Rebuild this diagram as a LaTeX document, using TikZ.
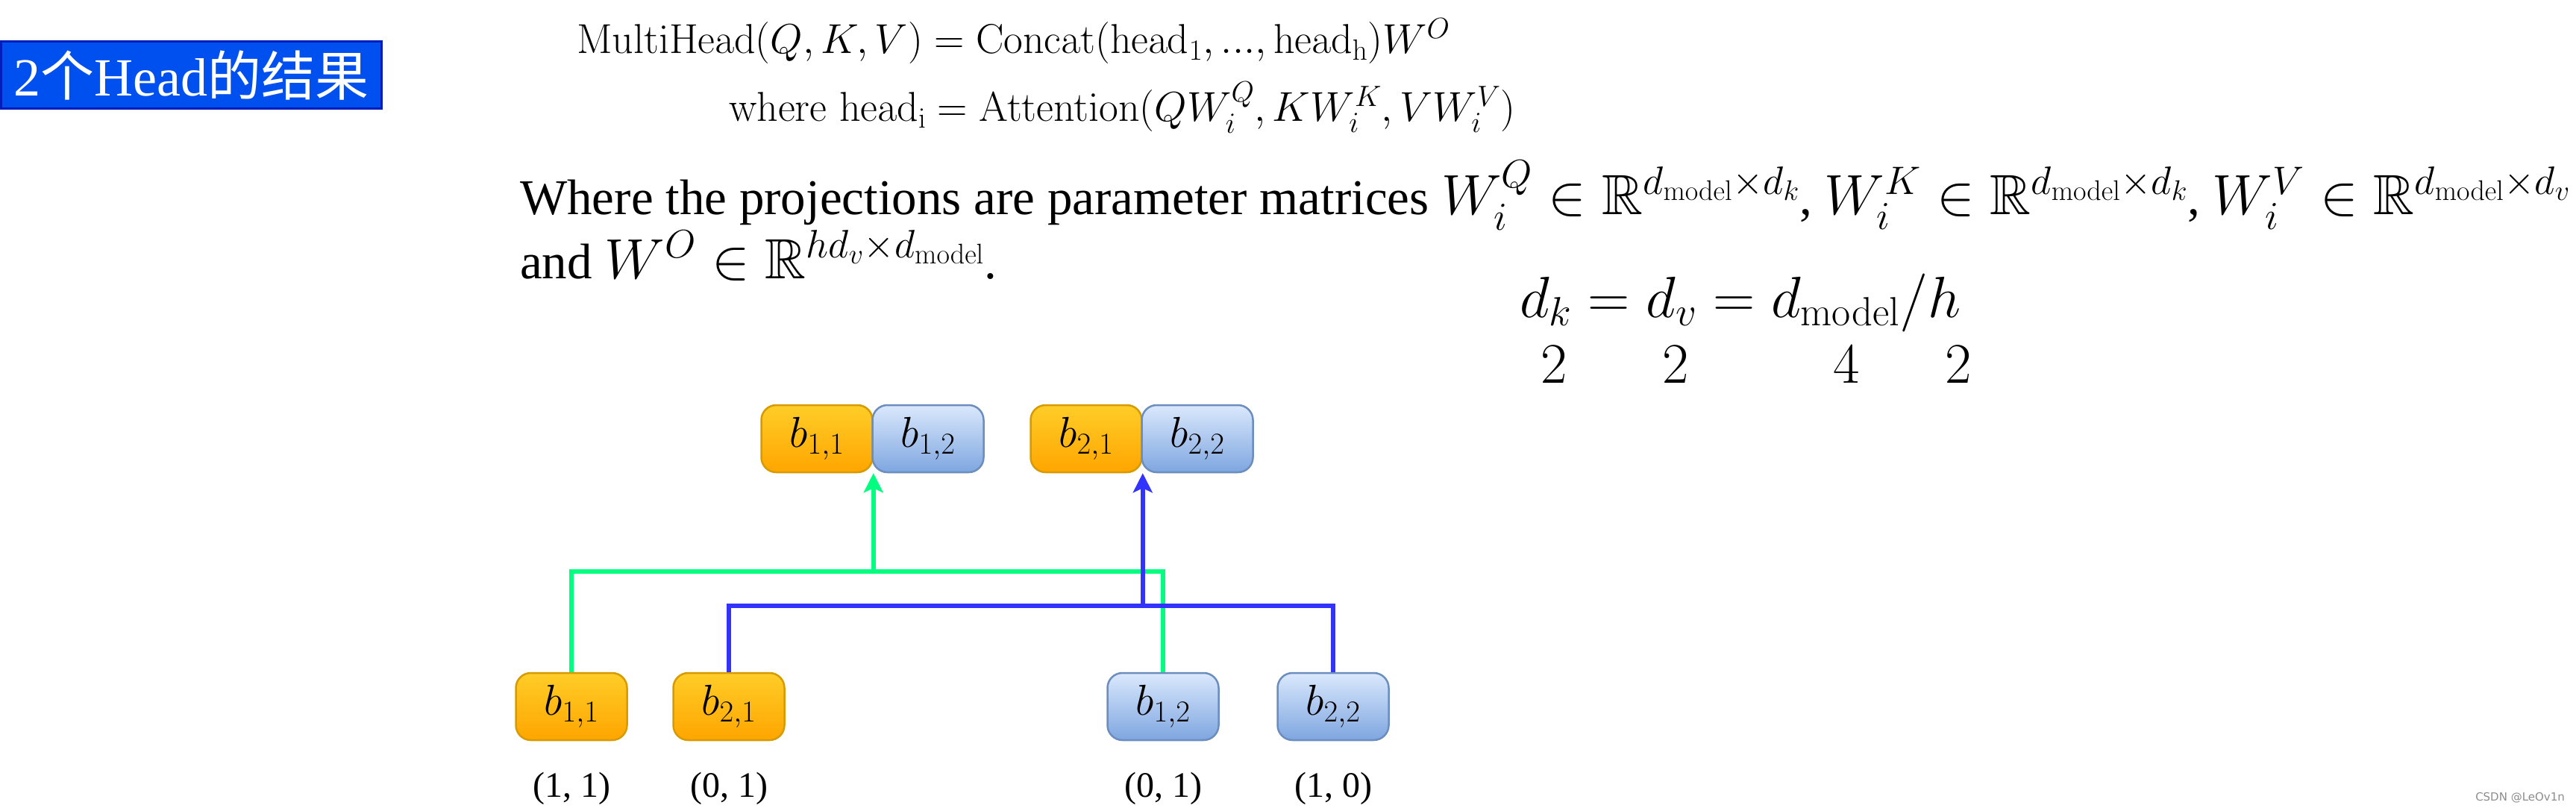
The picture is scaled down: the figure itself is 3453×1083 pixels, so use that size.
\RequirePackage{fix-cm}
\documentclass[tikz,border=0pt]{standalone}
\usepackage{amsmath,amssymb}
\usepackage[no-math]{fontspec}
\newfontfamily\tnr{Liberation Serif}
\newfontfamily\cjk{Noto Sans CJK SC}
\newfontfamily\wmfont{DejaVu Sans}
\usetikzlibrary{arrows.meta}
\definecolor{titlefill}{HTML}{0050EF}
\definecolor{titledraw}{HTML}{001DBC}
\definecolor{orgtop}{HTML}{FFCD28}
\definecolor{orgbot}{HTML}{FFA500}
\definecolor{orgdraw}{HTML}{D79B00}
\definecolor{blutop}{HTML}{DAE8FC}
\definecolor{blubot}{HTML}{7EA6E0}
\definecolor{bludraw}{HTML}{6C8EBF}
\definecolor{gline}{HTML}{00FF80}
\definecolor{bline}{HTML}{3333FF}
\tikzset{
  cell/.style={rounded corners=20pt, line width=2.5pt, minimum width=149pt,
    minimum height=90pt, inner sep=0pt, font=\fontsize{58}{60}\selectfont},
  orange cell/.style={cell, draw=orgdraw, top color=orgtop, bottom color=orgbot},
  blue cell/.style={cell, draw=bludraw, top color=blutop, bottom color=blubot},
  greenwire/.style={draw=gline, line width=5.5pt},
  bluewire/.style={draw=bline, line width=5.5pt},
  tip/.style={-{Stealth[length=26pt,width=26pt,inset=6pt]}},
  eqtext/.style={inner sep=0pt, anchor=base west},
  vecl/.style={inner sep=0pt, anchor=base, font=\tnr\fontsize{48}{50}\selectfont},
}
\begin{document}
\begin{tikzpicture}[x=1pt,y=-1pt]
\useasboundingbox (0,0) rectangle (3453,1083);
% title box
\node[draw=titledraw, fill=titlefill, line width=3pt, minimum width=510pt,
  minimum height=90pt, inner sep=0pt, text=white,
  font=\fontsize{72}{76}\selectfont] (title) at (256.5,100.5)
  {{\tnr 2}{\cjk 个}{\tnr Head}{\cjk 的结果}};
% formulas
\node[eqtext, font=\fontsize{56}{60}\selectfont] (eq1) at (773,72)
  {$\mathrm{MultiHead}(Q,K,V)=\mathrm{Concat}(\mathrm{head_1},...,\mathrm{head_h})W^O$};
\node[eqtext, font=\fontsize{56}{60}\selectfont] (eq2) at (977,163)
  {$\mathrm{where}\ \mathrm{head_i}=\mathrm{Attention}(QW^Q_i,KW^K_i,VW^V_i)$};
\node[eqtext, font=\tnr\fontsize{67}{70}\selectfont] (eq3) at (697,288)
  {Where the projections are parameter matrices {\fontsize{76}{80}\selectfont$W^Q_i\in\mathbb{R}^{d_{\mathrm{model}}\times d_k}$}, {\fontsize{76}{80}\selectfont$W^K_i\in\mathbb{R}^{d_{\mathrm{model}}\times d_k}$}, {\fontsize{76}{80}\selectfont$W^V_i\in\mathbb{R}^{d_{\mathrm{model}}\times d_v}$}};
\node[eqtext, font=\tnr\fontsize{67}{70}\selectfont] (eq4) at (697,373)
  {and {\fontsize{76}{80}\selectfont$W^O\in\mathbb{R}^{hd_v\times d_{\mathrm{model}}}$}.};
\node[eqtext, font=\fontsize{78}{80}\selectfont] (eq5) at (2037,425)
  {$d_k=d_v=d_{\mathrm{model}}/h$};
\node[inner sep=0pt, anchor=base, font=\fontsize{77}{80}\selectfont] (n1) at (2083,513) {$2$};
\node[inner sep=0pt, anchor=base, font=\fontsize{77}{80}\selectfont] (n2) at (2246,513) {$2$};
\node[inner sep=0pt, anchor=base, font=\fontsize{77}{80}\selectfont] (n3) at (2475,513) {$4$};
\node[inner sep=0pt, anchor=base, font=\fontsize{77}{80}\selectfont] (n4) at (2625,513) {$2$};
% top concatenated results
\node[orange cell] (t11) at (1095,588) {$b_{1,1}$};
\node[blue cell]   (t12) at (1244,588) {$b_{1,2}$};
\node[orange cell] (t21) at (1456,588) {$b_{2,1}$};
\node[blue cell]   (t22) at (1605,588) {$b_{2,2}$};
% bottom heads
\node[orange cell] (b11) at (766,947) {$b_{1,1}$};
\node[orange cell] (b21) at (977,947) {$b_{2,1}$};
\node[blue cell]   (b12) at (1559,947) {$b_{1,2}$};
\node[blue cell]   (b22) at (1787,947) {$b_{2,2}$};
% labels
\node[vecl] (l11) at (766,1068) {(1, 1)};
\node[vecl] (l21) at (977,1068) {(0, 1)};
\node[vecl] (l12) at (1559,1068) {(0, 1)};
\node[vecl] (l22) at (1787,1068) {(1, 0)};
% connectors
\coordinate (gj) at (t11.south east |- 0,766);
\coordinate (bj) at (t21.south east |- 0,812);
\draw[greenwire] (b11.north) |- (gj);
\draw[greenwire] (b12.north) |- (gj);
\draw[greenwire, tip] (gj) -- (t11.south east);
\draw[bluewire] (b21.north) |- (bj);
\draw[bluewire] (b22.north) |- (bj);
\draw[bluewire, tip] (bj) -- (t21.south east);
% watermark
\node[inner sep=0pt, anchor=base east, text=black!45, font=\wmfont\fontsize{15}{16}\selectfont] (wm) at (3438,1073) {CSDN @LeOv1n};
\end{tikzpicture}
\end{document}
